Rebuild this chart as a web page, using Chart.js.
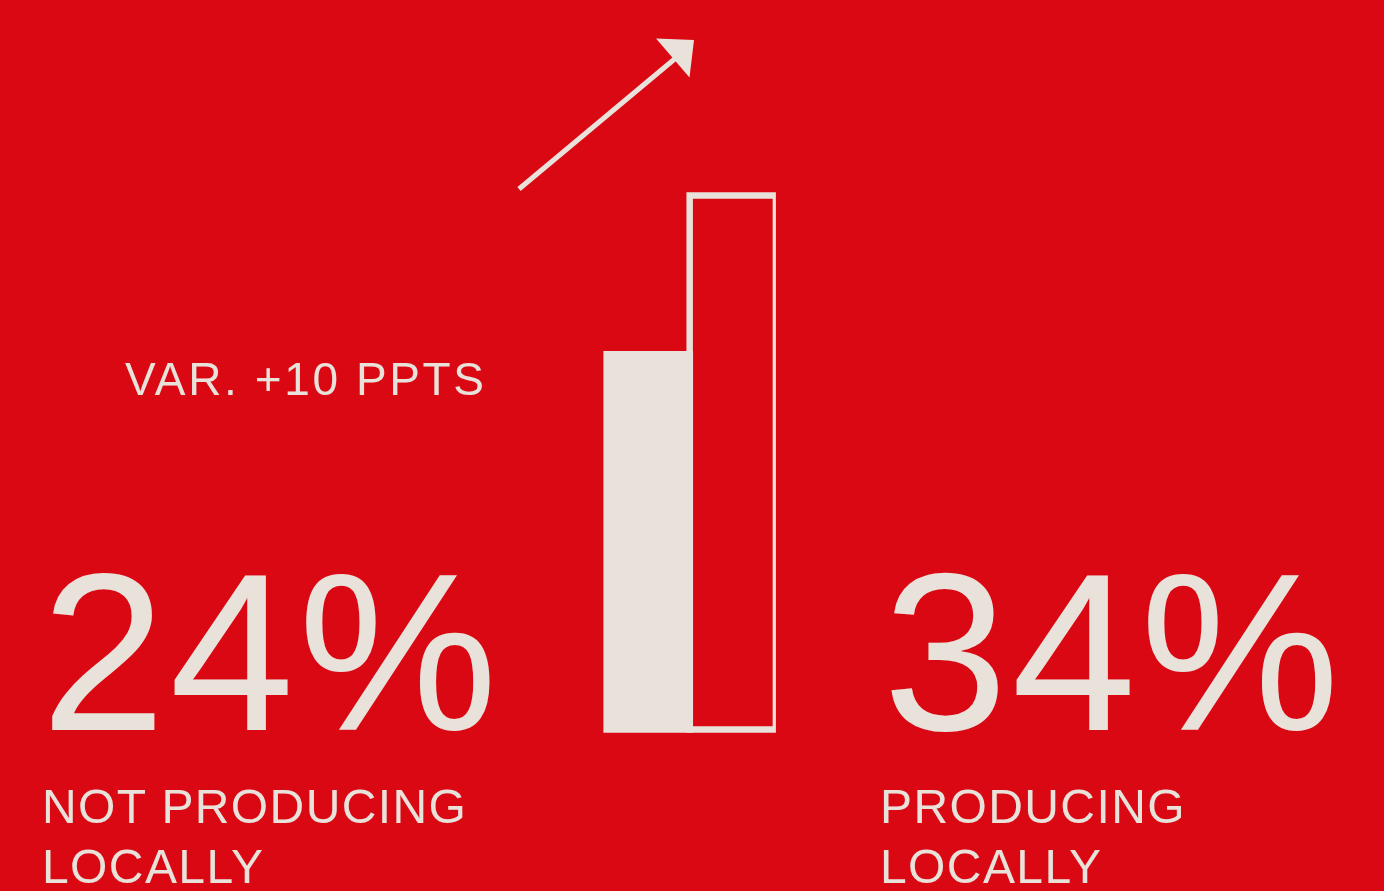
<!DOCTYPE html>
<html>
<head>
<meta charset="utf-8">
<title>Local production</title>
<script src="https://cdn.jsdelivr.net/npm/chart.js@4/dist/chart.umd.min.js"></script>
<style>
  html, body { margin: 0; padding: 0; }
  body {
    width: 1384px;
    height: 891px;
    overflow: hidden;
    position: relative;
    background: #da0812;
    font-family: "Liberation Sans", Arial, sans-serif;
    color: #e9e2db;
  }
  #chart { position: absolute; left: 0; top: 0; }
  .txt { position: absolute; white-space: nowrap; }
  .big { font-size: 224px; line-height: 224px; top: 540px; letter-spacing: 4px; }
  .lbl { font-size: 48px; line-height: 60px; top: 777px; letter-spacing: 1.4px; }
  #variation { font-size: 46px; line-height: 46px; top: 356px; left: 125px; letter-spacing: 2.6px; }
  #arrow { position: absolute; left: 0; top: 0; }
</style>
</head>
<body>
<canvas id="chart" width="1384" height="891"></canvas>

<svg id="arrow" width="1384" height="891">
  <line x1="519" y1="189" x2="677" y2="57" stroke="#e9e2db" stroke-width="5"/>
  <polygon points="656,38.5 694,40 689.5,77.5" fill="#e9e2db"/>
</svg>

<div class="txt" id="variation"></div>
<div class="txt big" id="valLeft" style="left:41px"></div>
<div class="txt big" id="valRight" style="left:883px"></div>
<div class="txt lbl" id="lblLeft" style="left:42px"></div>
<div class="txt lbl" id="lblRight" style="left:880px"></div>

<script>
// ---------------- Data ----------------
const categories = [["NOT PRODUCING", "LOCALLY"], ["PRODUCING", "LOCALLY"]];
const shares = [24, 34];   // % of companies
const variationLabel = "VAR. +10 PPTS";

const cream = "#e9e2db";

// ---------------- Texts ----------------
document.getElementById("variation").innerText = variationLabel;
document.getElementById("valLeft").innerText = `${shares[0]}%`;
document.getElementById("valRight").innerText = `${shares[1]}%`;
document.getElementById("lblLeft").innerHTML = categories[0].join("<br>");
document.getElementById("lblRight").innerHTML = categories[1].join("<br>");

// ---------------- Bars ----------------
// filled bar for the first group, outlined bar for the second
const ctx = document.getElementById("chart").getContext("2d");
new Chart(ctx, {
    type: 'bar',
    data: {
        labels: categories.map(c => c.join(" ")),
        datasets: [{
            data: shares,
            backgroundColor: [cream, 'rgba(0,0,0,0)'],
            borderColor: cream,
            borderWidth: [0, 6],
            borderSkipped: false,
            barThickness: 92.4
        }]
    },
    options: {
        responsive: false,
        animation: false,
        devicePixelRatio: 1,
        layout: { padding: { left: 603.4, right: 608.1, top: 192.3, bottom: 158.3 } },
        plugins: { legend: { display: false }, tooltip: { enabled: false } },
        scales: {
            x: { display: false, offset: true },
            y: { display: false, min: 0, max: 34 }
        }
    }
});
</script>
</body>
</html>
